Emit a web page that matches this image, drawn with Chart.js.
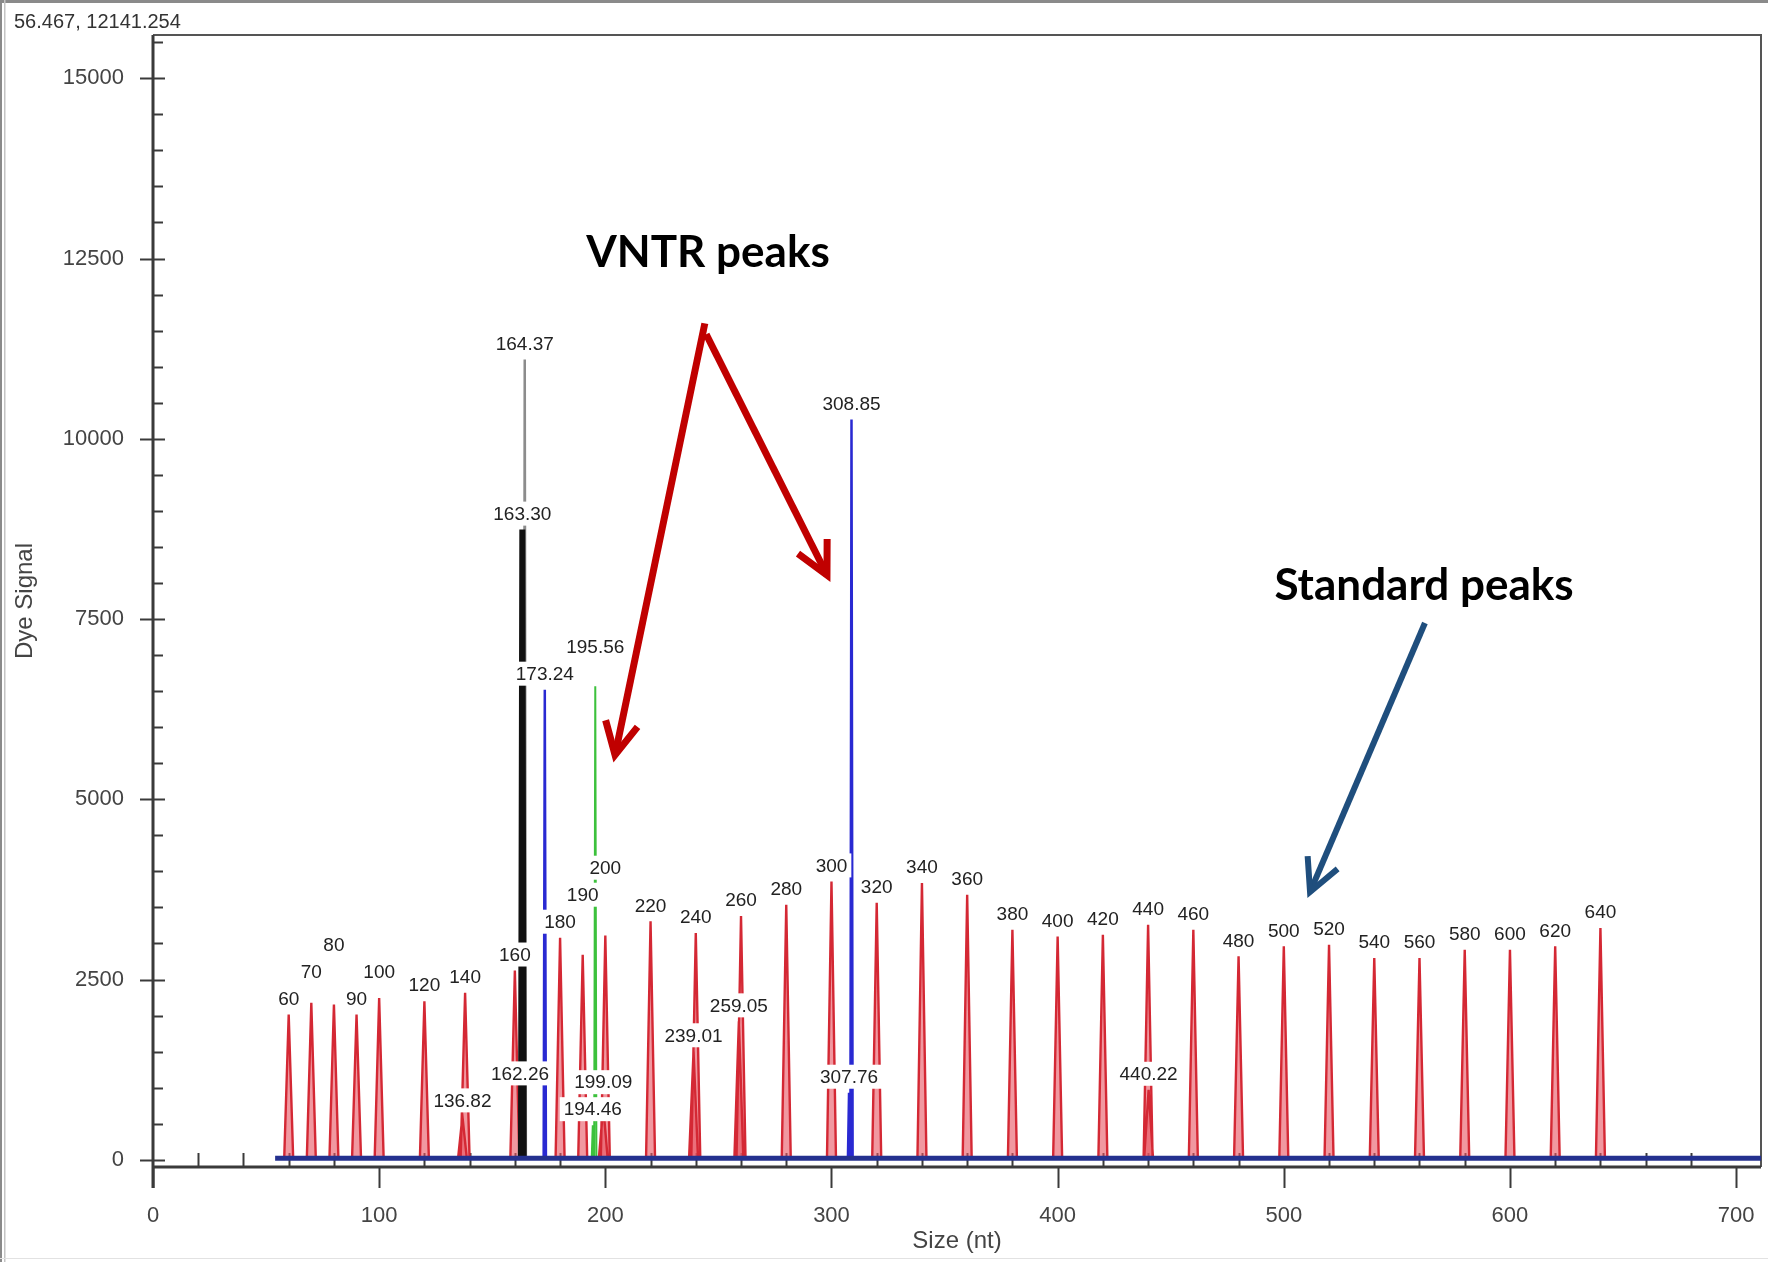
<!DOCTYPE html>
<html>
<head>
<meta charset="utf-8">
<title>Electropherogram</title>
<script src="https://cdn.jsdelivr.net/npm/chart.js@4.4.1/dist/chart.umd.min.js"></script>
<style>
    html, body { margin: 0; padding: 0; background: #fff; }
    canvas { display: block; }
</style>
</head>
<body>
<canvas id="trace" width="1768" height="1262"></canvas>
<script>
// size standard (red dye) peaks: position, height, label shown by the software
const standardSizes = [60, 70, 80, 90, 100, 120, 136.82, 138, 160, 180, 190, 199.09, 200, 220, 239.01, 240, 259.05, 260, 280, 300,
    320, 340, 360, 380, 400, 420, 440, 440.22, 460, 480, 500, 520, 540, 560, 580, 600, 620, 640];
const standardHeights = [2014, 2176, 2153, 2014, 2245, 2199, 602, 2315, 2625, 3080, 2844, 740, 3110, 3307, 1505, 3146, 1920, 3380, 3537, 3861,
    3565, 3840, 3676, 3190, 3098, 3121, 3260, 971, 3191, 2821, 2960, 2983, 2798, 2798, 2914, 2914, 2960, 3214];
const standardLabels = ['60', '70', '80', '90', '100', '120', '136.82', '140', '160', '180', '190', '199.09', '200', '220', '239.01', '240', '259.05', '260', '280', '300',
    '320', '340', '360', '380', '400', '420', '440', '440.22', '460', '480', '500', '520', '540', '560', '580', '600', '620', '640'];

// sample dyes
const blueSizes = [173.24, 307.76, 308.85];
const blueHeights = [6520, 930, 10266];
const greenSizes = [194.46, 195.56];
const greenHeights = [480, 6566];
const blackSizes = [163.30];
const blackHeights = [8740];
const graySizes = [162.26, 164.37];
const grayHeights = [970, 11100];

// noisy blue baseline of the run
const baselineRange = [54, 711];
const baselineLevel = 20;

// axis labels
const xTickLabels = [0, 100, 200, 300, 400, 500, 600, 700];
const yTickLabels = [0, 2500, 5000, 7500, 10000, 12500, 15000];
const cursorText = '56.467, 12141.254';

function peakPoints(sizes, heights, half) {
    const pts = [];
    sizes.forEach((s, i) => {
        pts.push({ x: s - half, y: 0 }, { x: s, y: heights[i] }, { x: s + half, y: 0 }, { x: s + half, y: null });
    });
    return pts;
}

function stepMarks(from, to, step) {
    const marks = [];
    for (let v = from; v <= to; v += step) marks.push({ value: v });
    return marks;
}

const peakLabels = [];
standardSizes.forEach((s, i) => peakLabels.push({ x: s, y: standardHeights[i], text: standardLabels[i] }));
[[blueSizes, blueHeights], [greenSizes, greenHeights], [blackSizes, blackHeights], [graySizes, grayHeights]].forEach(([sizes, heights]) => {
    sizes.forEach((s, i) => peakLabels.push({ x: s, y: heights[i], text: s.toFixed(2) }));
});
peakLabels.sort((a, b) => a.x - b.x);

const backgroundPlugin = {
    id: 'background',
    beforeDraw(chart) {
        const ctx = chart.ctx;
        ctx.save();
        ctx.fillStyle = '#fff';
        ctx.fillRect(0, 0, chart.width, chart.height);
        ctx.restore();
    }
};

// axis lines, frame and tick marks like the analysis software draws them
const tickMarksPlugin = {
    id: 'tickMarks',
    beforeDatasetsDraw(chart) {
        const { ctx, chartArea: a, scales: { x, y } } = chart;
        ctx.save();
        ctx.strokeStyle = '#555';
        ctx.lineWidth = 2;
        ctx.beginPath();
        ctx.moveTo(a.left, a.top); ctx.lineTo(a.right, a.top); ctx.lineTo(a.right, a.bottom);
        ctx.stroke();

        ctx.strokeStyle = '#3a3a3a';
        ctx.lineWidth = 2;
        y.ticks.forEach(t => {
            const v = Math.round(t.value);
            const p = Math.round(y.getPixelForValue(v)) + 0.5;
            ctx.beginPath();
            if (v % 2500 === 0) { ctx.moveTo(a.left - 13, p); ctx.lineTo(a.left + 12, p); }
            else { ctx.moveTo(a.left, p); ctx.lineTo(a.left + 10, p); }
            ctx.stroke();
        });
        x.ticks.forEach(t => {
            const v = Math.round(t.value);
            const p = Math.round(x.getPixelForValue(v)) + 0.5;
            ctx.beginPath();
            if (v % 100 === 0) { ctx.moveTo(p, a.bottom); ctx.lineTo(p, a.bottom + 21); }
            else { ctx.moveTo(p, a.bottom); ctx.lineTo(p, a.bottom - 14); }
            ctx.stroke();
        });

        ctx.lineWidth = 3;
        ctx.beginPath();
        ctx.moveTo(a.left, a.top); ctx.lineTo(a.left, a.bottom + 21);
        ctx.moveTo(a.left, a.bottom); ctx.lineTo(a.right, a.bottom);
        ctx.stroke();
        ctx.restore();
    }
};

// size labels above the peaks, stacked upward when they would overlap
const peakLabelPlugin = {
    id: 'peakLabels',
    afterDatasetsDraw(chart) {
        const { ctx, scales: { x, y } } = chart;
        const rowH = 27;
        ctx.save();
        ctx.font = '19px "Liberation Sans", Arial, sans-serif';
        ctx.textAlign = 'center';
        ctx.textBaseline = 'middle';
        const placed = [];
        peakLabels.forEach(lab => {
            const px = x.getPixelForValue(lab.x);
            const w = ctx.measureText(lab.text).width + 8;
            let cy = y.getPixelForValue(lab.y) - 16;
            let moved = true;
            while (moved) {
                moved = false;
                for (const p of placed) {
                    if (Math.abs(px - p.px) < (w + p.w) / 2 && Math.abs(cy - p.cy) < rowH) {
                        cy = p.cy - rowH;
                        moved = true;
                    }
                }
            }
            placed.push({ px, cy, w, text: lab.text });
        });
        ctx.fillStyle = '#fff';
        placed.forEach(p => ctx.fillRect(p.px - p.w / 2, p.cy - 12, p.w, 24));
        ctx.fillStyle = '#222';
        placed.forEach(p => ctx.fillText(p.text, p.px, p.cy + 1));
        ctx.restore();
    }
};

function drawArrow(ctx, x0, y0, x1, y1, color, width) {
    const head = 36;
    const ang = Math.atan2(y0 - y1, x0 - x1);
    ctx.strokeStyle = color;
    ctx.lineWidth = width;
    ctx.lineJoin = 'miter';
    ctx.beginPath();
    ctx.moveTo(x0, y0);
    ctx.lineTo(x1, y1);
    ctx.stroke();
    ctx.beginPath();
    ctx.moveTo(x1 + head * Math.cos(ang + 0.47), y1 + head * Math.sin(ang + 0.47));
    ctx.lineTo(x1, y1);
    ctx.lineTo(x1 + head * Math.cos(ang - 0.47), y1 + head * Math.sin(ang - 0.47));
    ctx.stroke();
}

const calloutPlugin = {
    id: 'callouts',
    afterDraw(chart) {
        const { ctx, scales: { x, y } } = chart;
        const px = v => x.getPixelForValue(v);
        const py = v => y.getPixelForValue(v);
        ctx.save();
        ctx.font = 'bold 44px Lato, "Open Sans", sans-serif';
        ctx.fillStyle = '#000';
        ctx.textAlign = 'center';
        ctx.textBaseline = 'alphabetic';
        ctx.fillText('VNTR peaks', px(245.4), py(12380));
        ctx.fillText('Standard peaks', px(562), py(7764));
        drawArrow(ctx, px(244), py(11600), px(204.3), py(5614), '#c00000', 7);
        drawArrow(ctx, px(244.6), py(11450), px(298), py(8110), '#c00000', 7);
        drawArrow(ctx, px(562.4), py(7445), px(511.6), py(3714), '#1f4e7d', 6);

        // window chrome and cursor read-out
        ctx.fillStyle = '#333';
        ctx.textAlign = 'left';
        ctx.font = '20px "Liberation Sans", Arial, sans-serif';
        ctx.fillText(cursorText, 14, 28);
        ctx.fillStyle = '#8a8a8a';
        ctx.fillRect(0, 0, chart.width, 3);
        ctx.fillRect(0, 0, 2, chart.height);
        ctx.fillStyle = '#c4c4c4';
        ctx.fillRect(4, 0, 1.5, chart.height);
        ctx.fillStyle = '#e2e2e2';
        ctx.fillRect(0, chart.height - 4, chart.width, 1);
        ctx.restore();
    }
};

const tickFont = { family: '"Liberation Sans", Arial, sans-serif', size: 22 };
const titleFont = { family: '"Liberation Sans", Arial, sans-serif', size: 24 };

const chart = new Chart(document.getElementById('trace'), {
    type: 'line',
    data: {
        datasets: [
            { label: 'baseline', data: baselineRange.map(s => ({ x: s, y: baselineLevel })), borderColor: '#24318f', borderWidth: 5 },
            { label: 'blue', data: peakPoints(blueSizes, blueHeights, 0.5), borderColor: '#2929d2', borderWidth: 2.5 },
            { label: 'green', data: peakPoints(greenSizes, greenHeights, 0.5), borderColor: '#3cc13c', borderWidth: 2 },
            { label: 'black', data: peakPoints(blackSizes, blackHeights, 0.6), borderColor: '#111', borderWidth: 6 },
            { label: 'gray', data: peakPoints(graySizes, grayHeights, 0.5), borderColor: '#8c8c8c', borderWidth: 2.5 },
            {
                label: 'red', data: peakPoints(standardSizes, standardHeights, 2.0),
                borderColor: '#d42834', borderWidth: 2.4, backgroundColor: 'rgba(232, 84, 96, 0.6)', fill: 'origin'
            }
        ]
    },
    options: {
        responsive: false,
        animation: false,
        events: [],
        layout: { padding: { top: 35, right: 7, left: 0, bottom: 0 } },
        elements: { point: { radius: 0 }, line: { tension: 0 } },
        plugins: { legend: { display: false }, tooltip: { enabled: false } },
        scales: {
            x: {
                type: 'linear',
                min: 0,
                max: 711,
                grid: { display: false, drawTicks: false },
                border: { display: false },
                afterBuildTicks: scale => { scale.ticks = stepMarks(0, 700, 20); },
                ticks: {
                    autoSkip: false,
                    maxRotation: 0,
                    padding: 36,
                    color: '#444',
                    font: tickFont,
                    callback: v => xTickLabels.includes(Math.round(v)) ? String(Math.round(v)) : ''
                },
                title: { display: true, text: 'Size (nt)', color: '#444', font: titleFont, padding: { top: 0, bottom: 6 } },
                afterFit: scale => {
                    scale.height = 95;
                    scale.paddingLeft = 0;
                    scale.paddingRight = 0;
                }
            },
            y: {
                type: 'linear',
                min: -100,
                max: 15600,
                grid: { display: false, drawTicks: false },
                border: { display: false },
                afterBuildTicks: scale => { scale.ticks = stepMarks(0, 15500, 500); },
                ticks: {
                    autoSkip: false,
                    padding: 29,
                    color: '#444',
                    font: tickFont,
                    callback: v => yTickLabels.includes(Math.round(v)) ? String(Math.round(v)) : ''
                },
                title: { display: true, text: 'Dye Signal', color: '#444', font: titleFont, padding: { top: 11, bottom: 0 } },
                afterFit: scale => {
                    scale.width = 153;
                    scale.paddingTop = 0;
                    scale.paddingBottom = 0;
                }
            }
        }
    },
    plugins: [backgroundPlugin, tickMarksPlugin, peakLabelPlugin, calloutPlugin]
});
</script>
</body>
</html>
